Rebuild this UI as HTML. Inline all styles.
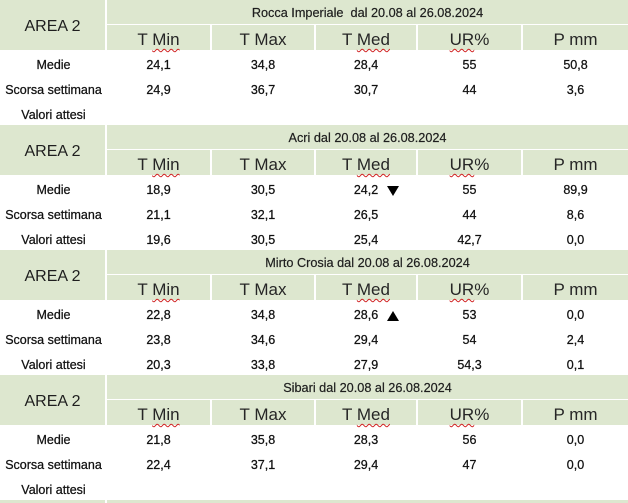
<!DOCTYPE html>
<html><head><meta charset="utf-8"><style>
html,body{margin:0;padding:0;background:#fff;}
body{width:628px;height:503px;position:relative;overflow:hidden;font-family:"Liberation Sans",Arial,sans-serif;}
.g{position:absolute;background:#dde7cf;}
.t{position:absolute;text-align:center;white-space:nowrap;}
.ttl{font-size:12.7px;color:#1e1e1e;line-height:24px;-webkit-text-stroke:0.2px #1e1e1e;}
.hd{font-size:17px;color:#262626;line-height:25px;}
.ar{font-size:16px;color:#1e1e1e;line-height:50px;}
.d{font-size:12.5px;color:#111;line-height:25px;-webkit-text-stroke:0.25px #111;}
.sq{text-decoration:underline wavy #d02020;text-decoration-thickness:1px;text-underline-offset:3px;}
.dn{position:absolute;width:0;height:0;border-left:6.5px solid transparent;border-right:6.5px solid transparent;border-top:10px solid #000;}
.up{position:absolute;width:0;height:0;border-left:6.5px solid transparent;border-right:6.5px solid transparent;border-bottom:10px solid #000;}
</style></head><body>

<!-- Section 1 Y=0 -->
<div class="g" style="left:0;top:0;width:105px;height:50px"></div>
<div class="t ar" style="left:0;top:2px;width:105px;height:50px">AREA 2</div>
<div class="g" style="left:107px;top:0;width:521px;height:24px"></div>
<div class="t ttl" style="left:107px;top:1px;width:521px">Rocca Imperiale&nbsp; dal 20.08 al 26.08.2024</div>
<div class="g" style="left:107px;top:25px;width:103px;height:25px"></div>
<div class="g" style="left:212px;top:25px;width:102px;height:25px"></div>
<div class="g" style="left:316px;top:25px;width:100px;height:25px"></div>
<div class="g" style="left:418px;top:25px;width:103px;height:25px"></div>
<div class="g" style="left:523px;top:25px;width:105px;height:25px"></div>
<div class="t hd" style="left:107px;top:27px;width:103px">T <span class="sq">Min</span></div>
<div class="t hd" style="left:212px;top:27px;width:102px">T Max</div>
<div class="t hd" style="left:316px;top:27px;width:100px">T <span class="sq">Med</span></div>
<div class="t hd" style="left:418px;top:27px;width:103px"><span class="sq">UR</span>%</div>
<div class="t hd" style="left:523px;top:27px;width:105px">P mm</div>
<div class="t d" style="left:0;top:53px;width:107px">Medie</div>
<div class="t d" style="left:107px;top:53px;width:103px">24,1</div>
<div class="t d" style="left:212px;top:53px;width:102px">34,8</div>
<div class="t d" style="left:316px;top:53px;width:100px">28,4</div>
<div class="t d" style="left:418px;top:53px;width:103px">55</div>
<div class="t d" style="left:523px;top:53px;width:105px">50,8</div>
<div class="t d" style="left:0;top:78px;width:107px">Scorsa settimana</div>
<div class="t d" style="left:107px;top:78px;width:103px">24,9</div>
<div class="t d" style="left:212px;top:78px;width:102px">36,7</div>
<div class="t d" style="left:316px;top:78px;width:100px">30,7</div>
<div class="t d" style="left:418px;top:78px;width:103px">44</div>
<div class="t d" style="left:523px;top:78px;width:105px">3,6</div>
<div class="t d" style="left:0;top:103px;width:107px">Valori attesi</div>

<!-- Section 2 Y=125 -->
<div class="g" style="left:0;top:125px;width:105px;height:50px"></div>
<div class="t ar" style="left:0;top:127px;width:105px;height:50px">AREA 2</div>
<div class="g" style="left:107px;top:125px;width:521px;height:24px"></div>
<div class="t ttl" style="left:107px;top:126px;width:521px">Acri dal 20.08 al 26.08.2024</div>
<div class="g" style="left:107px;top:150px;width:103px;height:25px"></div>
<div class="g" style="left:212px;top:150px;width:102px;height:25px"></div>
<div class="g" style="left:316px;top:150px;width:100px;height:25px"></div>
<div class="g" style="left:418px;top:150px;width:103px;height:25px"></div>
<div class="g" style="left:523px;top:150px;width:105px;height:25px"></div>
<div class="t hd" style="left:107px;top:152px;width:103px">T <span class="sq">Min</span></div>
<div class="t hd" style="left:212px;top:152px;width:102px">T Max</div>
<div class="t hd" style="left:316px;top:152px;width:100px">T <span class="sq">Med</span></div>
<div class="t hd" style="left:418px;top:152px;width:103px"><span class="sq">UR</span>%</div>
<div class="t hd" style="left:523px;top:152px;width:105px">P mm</div>
<div class="t d" style="left:0;top:178px;width:107px">Medie</div>
<div class="t d" style="left:107px;top:178px;width:103px">18,9</div>
<div class="t d" style="left:212px;top:178px;width:102px">30,5</div>
<div class="t d" style="left:316px;top:178px;width:100px">24,2</div>
<div class="dn" style="left:387px;top:186px"></div>
<div class="t d" style="left:418px;top:178px;width:103px">55</div>
<div class="t d" style="left:523px;top:178px;width:105px">89,9</div>
<div class="t d" style="left:0;top:203px;width:107px">Scorsa settimana</div>
<div class="t d" style="left:107px;top:203px;width:103px">21,1</div>
<div class="t d" style="left:212px;top:203px;width:102px">32,1</div>
<div class="t d" style="left:316px;top:203px;width:100px">26,5</div>
<div class="t d" style="left:418px;top:203px;width:103px">44</div>
<div class="t d" style="left:523px;top:203px;width:105px">8,6</div>
<div class="t d" style="left:0;top:228px;width:107px">Valori attesi</div>
<div class="t d" style="left:107px;top:228px;width:103px">19,6</div>
<div class="t d" style="left:212px;top:228px;width:102px">30,5</div>
<div class="t d" style="left:316px;top:228px;width:100px">25,4</div>
<div class="t d" style="left:418px;top:228px;width:103px">42,7</div>
<div class="t d" style="left:523px;top:228px;width:105px">0,0</div>

<!-- Section 3 Y=250 -->
<div class="g" style="left:0;top:250px;width:105px;height:50px"></div>
<div class="t ar" style="left:0;top:252px;width:105px;height:50px">AREA 2</div>
<div class="g" style="left:107px;top:250px;width:521px;height:24px"></div>
<div class="t ttl" style="left:107px;top:251px;width:521px">Mirto Crosia dal 20.08 al 26.08.2024</div>
<div class="g" style="left:107px;top:275px;width:103px;height:25px"></div>
<div class="g" style="left:212px;top:275px;width:102px;height:25px"></div>
<div class="g" style="left:316px;top:275px;width:100px;height:25px"></div>
<div class="g" style="left:418px;top:275px;width:103px;height:25px"></div>
<div class="g" style="left:523px;top:275px;width:105px;height:25px"></div>
<div class="t hd" style="left:107px;top:277px;width:103px">T <span class="sq">Min</span></div>
<div class="t hd" style="left:212px;top:277px;width:102px">T Max</div>
<div class="t hd" style="left:316px;top:277px;width:100px">T <span class="sq">Med</span></div>
<div class="t hd" style="left:418px;top:277px;width:103px"><span class="sq">UR</span>%</div>
<div class="t hd" style="left:523px;top:277px;width:105px">P mm</div>
<div class="t d" style="left:0;top:303px;width:107px">Medie</div>
<div class="t d" style="left:107px;top:303px;width:103px">22,8</div>
<div class="t d" style="left:212px;top:303px;width:102px">34,8</div>
<div class="t d" style="left:316px;top:303px;width:100px">28,6</div>
<div class="up" style="left:387px;top:311px"></div>
<div class="t d" style="left:418px;top:303px;width:103px">53</div>
<div class="t d" style="left:523px;top:303px;width:105px">0,0</div>
<div class="t d" style="left:0;top:328px;width:107px">Scorsa settimana</div>
<div class="t d" style="left:107px;top:328px;width:103px">23,8</div>
<div class="t d" style="left:212px;top:328px;width:102px">34,6</div>
<div class="t d" style="left:316px;top:328px;width:100px">29,4</div>
<div class="t d" style="left:418px;top:328px;width:103px">54</div>
<div class="t d" style="left:523px;top:328px;width:105px">2,4</div>
<div class="t d" style="left:0;top:353px;width:107px">Valori attesi</div>
<div class="t d" style="left:107px;top:353px;width:103px">20,3</div>
<div class="t d" style="left:212px;top:353px;width:102px">33,8</div>
<div class="t d" style="left:316px;top:353px;width:100px">27,9</div>
<div class="t d" style="left:418px;top:353px;width:103px">54,3</div>
<div class="t d" style="left:523px;top:353px;width:105px">0,1</div>

<!-- Section 4 Y=375 -->
<div class="g" style="left:0;top:375px;width:105px;height:50px"></div>
<div class="t ar" style="left:0;top:377px;width:105px;height:50px">AREA 2</div>
<div class="g" style="left:107px;top:375px;width:521px;height:24px"></div>
<div class="t ttl" style="left:107px;top:376px;width:521px">Sibari dal 20.08 al 26.08.2024</div>
<div class="g" style="left:107px;top:400px;width:103px;height:25px"></div>
<div class="g" style="left:212px;top:400px;width:102px;height:25px"></div>
<div class="g" style="left:316px;top:400px;width:100px;height:25px"></div>
<div class="g" style="left:418px;top:400px;width:103px;height:25px"></div>
<div class="g" style="left:523px;top:400px;width:105px;height:25px"></div>
<div class="t hd" style="left:107px;top:402px;width:103px">T <span class="sq">Min</span></div>
<div class="t hd" style="left:212px;top:402px;width:102px">T Max</div>
<div class="t hd" style="left:316px;top:402px;width:100px">T <span class="sq">Med</span></div>
<div class="t hd" style="left:418px;top:402px;width:103px"><span class="sq">UR</span>%</div>
<div class="t hd" style="left:523px;top:402px;width:105px">P mm</div>
<div class="t d" style="left:0;top:428px;width:107px">Medie</div>
<div class="t d" style="left:107px;top:428px;width:103px">21,8</div>
<div class="t d" style="left:212px;top:428px;width:102px">35,8</div>
<div class="t d" style="left:316px;top:428px;width:100px">28,3</div>
<div class="t d" style="left:418px;top:428px;width:103px">56</div>
<div class="t d" style="left:523px;top:428px;width:105px">0,0</div>
<div class="t d" style="left:0;top:453px;width:107px">Scorsa settimana</div>
<div class="t d" style="left:107px;top:453px;width:103px">22,4</div>
<div class="t d" style="left:212px;top:453px;width:102px">37,1</div>
<div class="t d" style="left:316px;top:453px;width:100px">29,4</div>
<div class="t d" style="left:418px;top:453px;width:103px">47</div>
<div class="t d" style="left:523px;top:453px;width:105px">0,0</div>
<div class="t d" style="left:0;top:478px;width:107px">Valori attesi</div>

<!-- bottom strip -->
<div class="g" style="left:0;top:500px;width:105px;height:3px"></div>
<div class="g" style="left:107px;top:500px;width:521px;height:3px"></div>

</body></html>
